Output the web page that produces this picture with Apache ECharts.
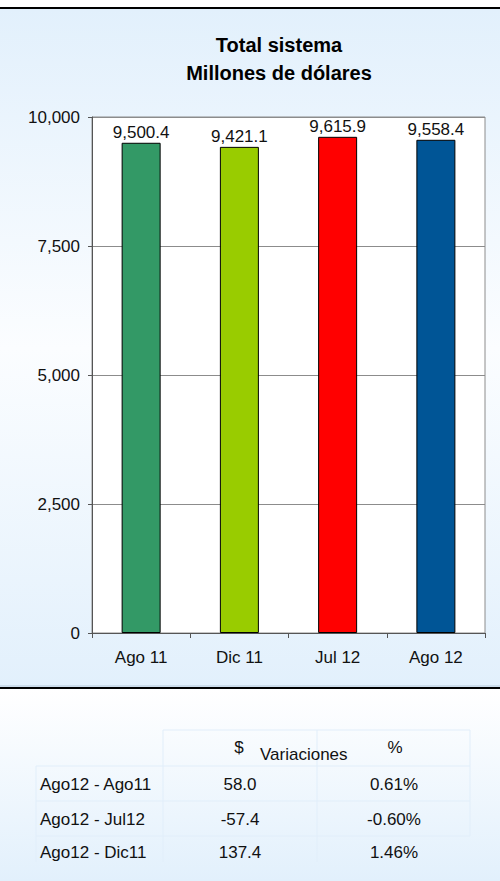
<!DOCTYPE html>
<html>
<head>
<meta charset="utf-8">
<script src="https://cdn.jsdelivr.net/npm/echarts@6/dist/echarts.min.js"></script>
<style>
  html, body { margin: 0; padding: 0; background: #fff; }
  #main { width: 500px; height: 881px; }
</style>
</head>
<body>
<div id="main"></div>
<script>
// datos del grafico
var categories = ['Ago 11', 'Dic 11', 'Jul 12', 'Ago 12'];
var values = [9500.4, 9421.1, 9615.9, 9558.4];
var barColors = ['#339966', '#99cc00', '#ff0000', '#005596'];

// tabla de variaciones
var rowLabels = ['Ago12 - Ago11', 'Ago12 - Jul12', 'Ago12 - Dic11'];
var varAmount = [58.0, -57.4, 137.4];
var varPercent = [0.61, -0.60, 1.46];

var FONT = "'Liberation Sans', Arial, sans-serif";

function fmt(v, d) {
  return v.toLocaleString('en-US', { minimumFractionDigits: d, maximumFractionDigits: d });
}

var chart = echarts.init(document.getElementById('main'), null, { renderer: 'svg' });

// fondo, bordes y tabla
var graphics = [
  {
    type: 'rect', z: -10, silent: true,
    shape: { x: 0, y: 9, width: 500, height: 678 },
    style: {
      fill: new echarts.graphic.LinearGradient(0, 0, 0, 1, [
        { offset: 0, color: '#e2f0fc' },
        { offset: 0.5, color: '#fbfdff' },
        { offset: 1, color: '#e2f0fc' }
      ])
    }
  },
  {
    type: 'rect', z: -10, silent: true,
    shape: { x: 0, y: 689, width: 500, height: 192 },
    style: {
      fill: new echarts.graphic.LinearGradient(0, 0, 0, 1, [
        { offset: 0, color: '#ffffff' },
        { offset: 1, color: '#e2f0fc' }
      ])
    }
  },
  { type: 'line', silent: true, shape: { x1: 0, y1: 8, x2: 500, y2: 8 }, style: { stroke: '#000', lineWidth: 2 } },
  { type: 'line', silent: true, shape: { x1: 0, y1: 686, x2: 500, y2: 686 }, style: { stroke: '#b7cadb', lineWidth: 1 } },
  { type: 'line', silent: true, shape: { x1: 0, y1: 688, x2: 500, y2: 688 }, style: { stroke: '#000', lineWidth: 2 } }
];

// lineas tenues de la tabla
var gridStroke = '#e1eefa';
[[163, 730, 470, 730], [36, 766, 470, 766], [36, 801, 470, 801], [36, 836, 470, 836],
 [163, 730, 163, 862], [317, 730, 317, 862], [470, 730, 470, 836], [36, 766, 36, 862]].forEach(function (l) {
  graphics.push({ type: 'line', silent: true, shape: { x1: l[0], y1: l[1], x2: l[2], y2: l[3] }, style: { stroke: gridStroke, lineWidth: 1 } });
});

function txt(s, x, y, align) {
  return {
    type: 'text', silent: true, x: x, y: y,
    style: { text: s, font: '17px ' + FONT, fill: '#111', align: align || 'center', verticalAlign: 'middle' }
  };
}

graphics.push(txt('$', 239, 747));
graphics.push(txt('Variaciones', 260, 754, 'left'));
graphics.push(txt('%', 395, 747));

var rowY = [784, 819, 852];
rowLabels.forEach(function (r, i) {
  graphics.push(txt(r, 40, rowY[i], 'left'));
  graphics.push(txt(fmt(varAmount[i], 1), 240, rowY[i]));
  graphics.push(txt(fmt(varPercent[i], 2) + '%', 394, rowY[i]));
});

chart.setOption({
  animation: false,
  textStyle: { fontFamily: FONT },
  title: {
    text: 'Total sistema\nMillones de dólares',
    left: 274,
    top: 26,
    textAlign: 'center',
    textStyle: { fontSize: 20, fontWeight: 'bold', color: '#000', lineHeight: 28, fontFamily: FONT }
  },
  grid: {
    left: 92, right: 15, top: 117, bottom: 248,
    show: true, backgroundColor: '#ffffff', borderColor: '#8c8c8c', borderWidth: 1
  },
  xAxis: {
    type: 'category',
    data: categories,
    axisLine: { lineStyle: { color: '#555', width: 1 } },
    axisTick: { show: true, alignWithLabel: false, length: 5, lineStyle: { color: '#555' } },
    axisLabel: { color: '#111', fontSize: 17, margin: 16, fontFamily: FONT }
  },
  yAxis: {
    type: 'value',
    min: 0, max: 10000, interval: 2500,
    axisLine: { show: true, lineStyle: { color: '#555', width: 1 } },
    axisTick: { show: true, length: 4, lineStyle: { color: '#555' } },
    splitLine: { lineStyle: { color: '#8c8c8c', width: 1 } },
    axisLabel: {
      color: '#111', fontSize: 17, margin: 12, fontFamily: FONT,
      formatter: function (v) { return v.toLocaleString('en-US'); }
    }
  },
  series: [{
    type: 'bar',
    barWidth: 39,
    data: values.map(function (v, i) {
      return { value: v, itemStyle: { color: barColors[i] } };
    }),
    itemStyle: { borderColor: '#000', borderWidth: 1 },
    label: {
      show: true, position: 'top', distance: 2,
      color: '#111', fontSize: 17, fontFamily: FONT,
      formatter: function (p) { return fmt(p.value, 1); }
    }
  }],
  graphic: graphics
});
</script>
</body>
</html>
